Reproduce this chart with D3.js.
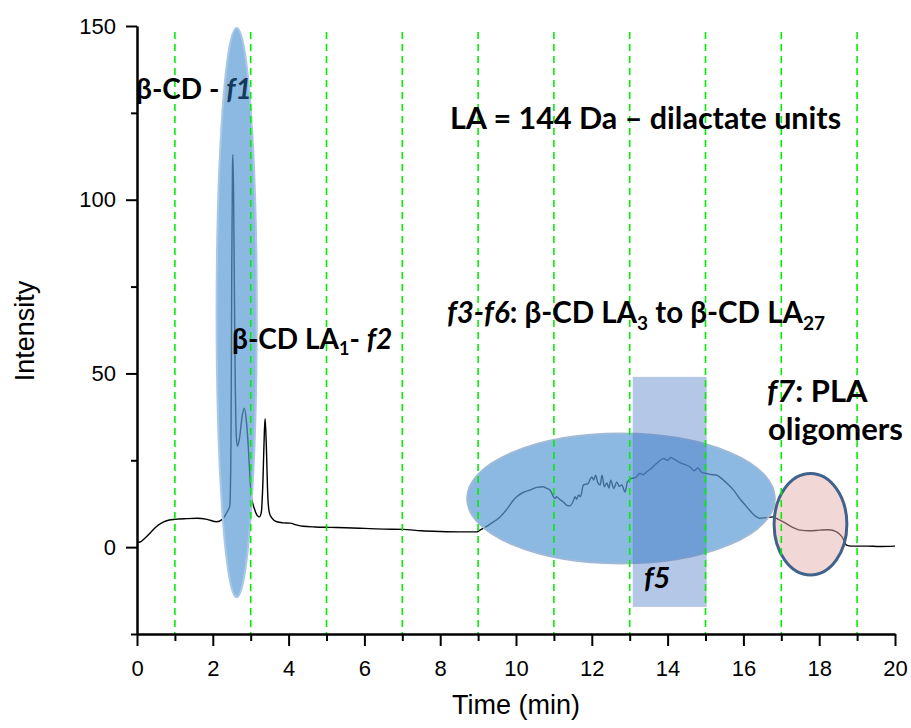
<!DOCTYPE html>
<html lang="en">
<head>
<meta charset="utf-8">
<title>D3: chromatogram</title>
<script src="https://d3js.org/d3.v7.min.js"></script>
<style>
  body { margin: 0; background: #fff; }
  .axis text { font-family: "Liberation Sans", Arial, sans-serif; font-size: 22px; fill: #000; }
  .axis path, .axis line { stroke: #000; stroke-width: 2px; }
  .note { font-family: Lato, "Open Sans", sans-serif; font-weight: bold; fill: #000; }
</style>
</head>
<body>
<script>
// trace: time (min) and intensity
var time = [0.00, 0.10, 0.20, 0.34, 0.50, 0.69, 0.85, 1.00, 1.30, 1.58, 1.85, 2.10, 2.25, 2.37, 2.45,
  2.48, 2.50, 2.52, 2.53, 2.55, 2.58, 2.62, 2.65, 2.70, 2.78, 2.83, 2.88, 2.93, 2.98, 3.02,
  3.10, 3.18, 3.23, 3.28, 3.32, 3.36, 3.38, 3.41, 3.45, 3.49, 3.55, 3.69, 3.85, 4.04, 4.20,
  4.38, 4.70, 5.09, 5.50, 6.00, 6.50, 7.02, 7.50, 8.00, 8.50, 8.96, 9.05, 9.30, 9.58, 9.80,
  9.93, 10.02, 10.20, 10.37, 10.55, 10.72, 10.80, 10.90, 11.03, 11.07, 11.15, 11.25, 11.35, 11.42, 11.50,
  11.56, 11.60, 11.65, 11.70, 11.78, 11.90, 12.00, 12.05, 12.10, 12.16, 12.22, 12.27, 12.33, 12.40, 12.45,
  12.50, 12.58, 12.66, 12.72, 12.79, 12.88, 12.94, 13.05, 13.15, 13.27, 13.35, 13.45, 13.55, 13.65, 13.75,
  13.89, 14.00, 14.08, 14.15, 14.30, 14.45, 14.59, 14.70, 14.80, 14.90, 15.03, 15.15, 15.30, 15.45, 15.60,
  15.74, 15.90, 16.09, 16.25, 16.44, 16.60, 16.79, 16.92, 17.05, 17.25, 17.50, 17.75, 18.02, 18.25, 18.46,
  18.60, 18.72, 18.85, 19.25, 19.60, 20.00];
var intensity = [1.3, 1.6, 2.5, 4.0, 5.8, 7.2, 7.8, 8.0, 8.2, 8.3, 8.0, 7.3, 8.0, 10.0, 12.0,
  30, 80, 110, 113, 100, 60, 32, 29, 31, 38, 40, 37, 30, 20, 14.5,
  11, 9, 8.7, 10, 18, 33, 37, 30, 15, 10, 8.5, 7.3, 7.0, 6.9, 6.4,
  6.0, 5.8, 5.7, 5.6, 5.4, 5.2, 5.1, 4.7, 4.5, 4.4, 4.4, 4.9, 6.5, 8.7, 11.5,
  13.5, 14.5, 15.8, 16.4, 17.2, 17.4, 17.0, 16.4, 14.0, 14.5, 13.8, 13.0, 12.0, 11.9, 13.0,
  14.5, 13.8, 15.0, 14.5, 17.9, 18.3, 20.2, 19.3, 20.7, 18.5, 17.9, 20.7, 17.4, 18.5, 17.0,
  19.3, 16.9, 18.8, 17.5, 17.9, 15.9, 18.8, 19.8, 20.0, 21.2, 20.8, 21.7, 22.5, 23.5, 24.5,
  25.5, 25.0, 25.8, 25.5, 24.5, 23.8, 23.1, 22.0, 22.8, 21.5, 21.2, 20.9, 20.7, 19.5, 18.0,
  16.4, 14.0, 11.6, 9.6, 8.3, 8.5, 8.7, 8.0, 7.3, 6.0, 4.9, 4.7, 4.9, 5.0, 4.4,
  3.0, 0.6, 0.3, 0.3, 0.2, 0.3];

var xMajorTicks = [0, 2, 4, 6, 8, 10, 12, 14, 16, 18, 20];
var xMinorTicks = [1, 3, 5, 7, 9, 11, 13, 15, 17, 19];
var yMajorTicks = [0, 50, 100, 150];
var yMinorTicks = [-25, 25, 75, 125];
var gridTimes = [1, 3, 5, 7, 9, 11, 13, 15, 17, 19];

var width = 911, height = 728;

var svg = d3.select("body").append("svg")
  .attr("width", width)
  .attr("height", height);

var x = d3.scaleLinear().domain([0, 20]).range([137, 895]);
var y = d3.scaleLinear().domain([-25, 150]).range([634, 26]);

var data = time.map(function(t, i) { return {t: t, v: intensity[i]}; });

// trace
svg.append("path")
  .datum(data)
  .attr("fill", "none")
  .attr("stroke", "#000")
  .attr("stroke-width", 1.4)
  .attr("d", d3.line()
    .x(function(d) { return x(d.t); })
    .y(function(d) { return y(d.v); })
    .curve(d3.curveMonotoneX));

// fraction shapes
function ellipse(ct, cv, rt, rv) {
  return svg.append("ellipse")
    .attr("cx", x(ct)).attr("cy", y(cv))
    .attr("rx", x(ct + rt) - x(ct)).attr("ry", y(cv) - y(cv + rv));
}
ellipse(2.63, 67.5, 0.53, 81.9)
  .attr("fill", "#5b9bd5").attr("fill-opacity", 0.7)
  .attr("stroke", "#a9c8e6").attr("stroke-width", 2);

ellipse(12.77, 14, 4.06, 18.7)
  .attr("fill", "#5b9bd5").attr("fill-opacity", 0.7)
  .attr("stroke", "#9fb9d6").attr("stroke-width", 2);

svg.append("rect")
  .attr("x", x(13.08)).attr("y", y(49))
  .attr("width", x(15.03) - x(13.08))
  .attr("height", y(-17.2) - y(49))
  .attr("fill", "#4472c4").attr("fill-opacity", 0.4);

ellipse(17.77, 6.6, 0.96, 14.6)
  .attr("fill", "#e6b0b0").attr("fill-opacity", 0.5)
  .attr("stroke", "#41628a").attr("stroke-width", 3);

// green dashed grid
svg.append("g").selectAll("line")
  .data(gridTimes)
  .enter().append("line")
  .attr("x1", function(d) { return x(d); })
  .attr("x2", function(d) { return x(d); })
  .attr("y1", 32).attr("y2", 634)
  .attr("stroke", "#00f000")
  .attr("stroke-width", 1.6)
  .attr("stroke-dasharray", "7,5");

// axes
svg.append("g").attr("class", "axis")
  .attr("transform", "translate(0,634)")
  .call(d3.axisBottom(x).tickValues(xMinorTicks).tickSize(7).tickSizeOuter(0).tickFormat(""));
svg.append("g").attr("class", "axis")
  .attr("transform", "translate(0,634)")
  .call(d3.axisBottom(x).tickValues(xMajorTicks).tickSize(12).tickSizeOuter(0).tickPadding(14));
svg.append("g").attr("class", "axis")
  .attr("transform", "translate(137,0)")
  .call(d3.axisLeft(y).tickValues(yMinorTicks).tickSize(6).tickSizeOuter(0).tickFormat(""));
svg.append("g").attr("class", "axis")
  .attr("transform", "translate(137,0)")
  .call(d3.axisLeft(y).tickValues(yMajorTicks).tickSize(11).tickSizeOuter(0).tickPadding(10));

// axis titles
svg.append("text")
  .attr("x", 516).attr("y", 714)
  .attr("text-anchor", "middle")
  .style("font-family", "'Liberation Sans', Arial, sans-serif")
  .style("font-size", "27px")
  .text("Time (min)");
svg.append("text")
  .attr("transform", "translate(34,331) rotate(-90)")
  .attr("text-anchor", "middle")
  .style("font-family", "'Liberation Sans', Arial, sans-serif")
  .style("font-size", "27px")
  .text("Intensity");

// annotations
var f1 = svg.append("text").attr("class", "note").attr("x", 136).attr("y", 99).style("font-size", "28px");
f1.append("tspan").text("β-CD - ");
f1.append("tspan").style("font-style", "italic").style("fill", "#163a5c").text("f1");

var t2 = svg.append("text").attr("class", "note").attr("x", 232).attr("y", 349).style("font-size", "28px");
t2.append("tspan").text("β-CD LA");
t2.append("tspan").attr("dy", 6).style("font-size", "18px").text("1");
t2.append("tspan").attr("dy", -6).text("- ");
t2.append("tspan").style("font-style", "italic").text("f2");

svg.append("text").attr("class", "note").attr("x", 450).attr("y", 129)
  .style("font-size", "30.5px")
  .text("LA = 144 Da – dilactate units");

var t3 = svg.append("text").attr("class", "note").attr("x", 447).attr("y", 323).style("font-size", "29.5px");
t3.append("tspan").style("font-style", "italic").text("f3-f6");
t3.append("tspan").text(": β-CD LA");
t3.append("tspan").attr("dy", 7).style("font-size", "19px").text("3");
t3.append("tspan").attr("dy", -7).text(" to β-CD LA");
t3.append("tspan").attr("dy", 7).style("font-size", "19px").text("27");

var t7 = svg.append("text").attr("class", "note").attr("x", 767).attr("y", 402).style("font-size", "31px");
t7.append("tspan").style("font-style", "italic").text("f7");
t7.append("tspan").text(": PLA");
svg.append("text").attr("class", "note").attr("x", 768).attr("y", 440)
  .style("font-size", "31px").text("oligomers");

svg.append("text").attr("class", "note").attr("x", 644).attr("y", 588)
  .style("font-size", "29px").style("font-style", "italic").text("f5");
</script>
</body>
</html>
